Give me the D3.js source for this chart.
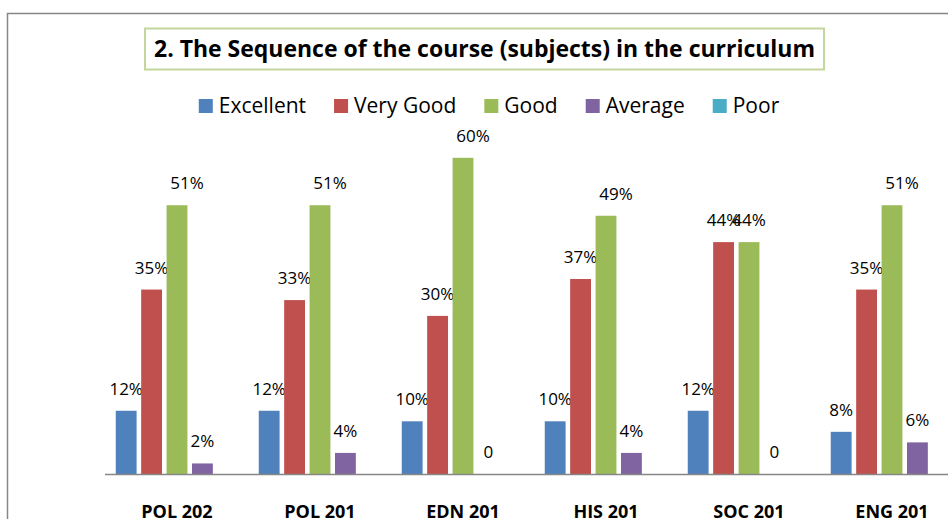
<!DOCTYPE html>
<html>
<head>
<meta charset="utf-8">
<script src="https://cdn.jsdelivr.net/npm/d3@7"></script>
<style>
  body { margin: 0; background: #fff; }
  svg { display: block; font-family: "Open Sans", sans-serif; }
</style>
</head>
<body>
<svg width="948" height="519"></svg>
<script>
var title = "2. The Sequence of the course (subjects) in the curriculum";
var courses = ["POL 202", "POL 201", "EDN 201", "HIS 201", "SOC 201", "ENG 201"];
var seriesNames = ["Excellent", "Very Good", "Good", "Average", "Poor"];
var seriesColors = ["#4f81bd", "#c0504d", "#9bbb59", "#8064a2", "#4bacc6"];

// percentages per course, null = no value shown
var excellent = [12, 12, 10, 10, 12, 8];
var veryGood = [35, 33, 30, 37, 44, 35];
var good = [51, 51, 60, 49, 44, 51];
var average = [2, 4, 0, 4, 0, 6];
var poor = [null, null, null, null, null, null];

var seriesData = [excellent, veryGood, good, average, poor];

var svg = d3.select("svg");

// outer chart border (the chart continues past the right and bottom edges)
svg.append("path")
  .attr("d", "M7.5,519 L7.5,13.5 L948,13.5")
  .attr("fill", "none")
  .attr("stroke", "#878787")
  .attr("stroke-width", 1.5);

// title box
svg.append("rect")
  .attr("x", 145).attr("y", 28.5)
  .attr("width", 679).attr("height", 41)
  .attr("fill", "#fff")
  .attr("stroke", "#c3d69b")
  .attr("stroke-width", 2);

svg.append("text")
  .attr("x", 484.5).attr("y", 57)
  .attr("text-anchor", "middle")
  .attr("font-weight", "bold")
  .attr("font-size", 24)
  .attr("textLength", 661)
  .attr("lengthAdjust", "spacingAndGlyphs")
  .attr("fill", "#000")
  .text(title);

// legend
var legend = svg.append("g");
var lx = 0;
seriesNames.forEach(function (name, i) {
  var g = legend.append("g").attr("transform", "translate(" + lx + ",0)");
  g.append("rect")
    .attr("x", 0).attr("y", 99)
    .attr("width", 14).attr("height", 14)
    .attr("fill", seriesColors[i]);
  var t = g.append("text")
    .attr("x", 20).attr("y", 113)
    .attr("font-size", 21)
    .attr("fill", "#000")
    .text(name);
  lx += 20 + t.node().getComputedTextLength() + 28;
});
var legendW = lx - 28;
legend.attr("transform", "translate(" + (489 - legendW / 2) + ",0)");

// scales
var baseY = 474;
var x0 = d3.scaleBand()
  .domain(courses)
  .range([105.5, 963.5])
  .paddingInner(0)
  .paddingOuter(0);

var x1 = d3.scaleBand()
  .domain(d3.range(seriesNames.length))
  .range([0, 122.5])
  .paddingInner(0.18);

var y = d3.scaleLinear()
  .domain([0, 70])
  .range([baseY, baseY - 70 * 5.27]);

var groupOffset = (x0.bandwidth() - 122.5) / 2;

var groups = svg.append("g")
  .selectAll("g")
  .data(courses)
  .join("g")
  .attr("transform", function (d) {
    return "translate(" + (x0(d) + groupOffset) + ",0)";
  });

var cells = groups.selectAll("g.cell")
  .data(function (d, ci) {
    return seriesData.map(function (s, si) {
      return { course: d, series: si, value: s[ci] };
    });
  })
  .join("g")
  .attr("class", "cell");

cells.filter(function (d) { return d.value != null && d.value > 0; })
  .append("rect")
  .attr("x", function (d) { return x1(d.series); })
  .attr("y", function (d) { return y(d.value); })
  .attr("width", x1.bandwidth())
  .attr("height", function (d) { return baseY - y(d.value); })
  .attr("fill", function (d) { return seriesColors[d.series]; });

// data labels; "Good" labels sit a little right of their bars in the original
var labelNudge = function (d) {
  return d.series == 2 && d.course != "SOC 201" ? 10 : 0;
};

cells.filter(function (d) { return d.value != null; })
  .append("text")
  .attr("x", function (d) { return x1(d.series) + x1.bandwidth() / 2 + labelNudge(d); })
  .attr("y", function (d) { return y(d.value) - 16; })
  .attr("text-anchor", "middle")
  .attr("font-size", 17)
  .attr("fill", "#000")
  .text(function (d) { return d.value == 0 ? "0" : d.value + "%"; });

// category axis
svg.append("line")
  .attr("x1", 105).attr("x2", 948)
  .attr("y1", baseY + 0.5).attr("y2", baseY + 0.5)
  .attr("stroke", "#868686")
  .attr("stroke-width", 1.5);

svg.append("g")
  .selectAll("text")
  .data(courses)
  .join("text")
  .attr("x", function (d) { return x0(d) + x0.bandwidth() / 2; })
  .attr("y", 518)
  .attr("text-anchor", "middle")
  .attr("font-weight", "bold")
  .attr("font-size", 18)
  .attr("fill", "#000")
  .text(function (d) { return d; });
</script>
</body>
</html>
